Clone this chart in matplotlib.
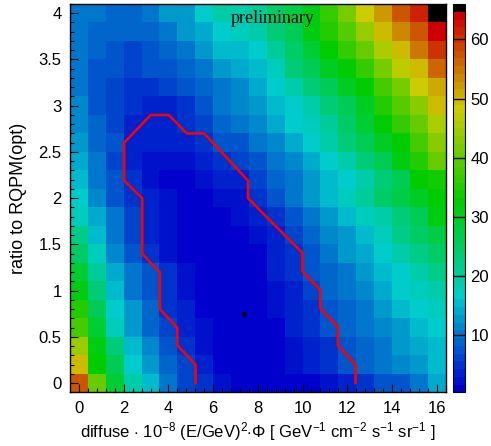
import colorsys
import numpy as np
import matplotlib
matplotlib.use("Agg")
import matplotlib.pyplot as plt
from matplotlib.colors import ListedColormap

plt.rcParams['font.family'] = ['Liberation Sans', 'DejaVu Sans']
plt.rcParams['mathtext.fontset'] = 'custom'
plt.rcParams['mathtext.rm'] = 'Liberation Sans'
plt.rcParams['mathtext.it'] = 'Liberation Sans:italic'

# bin centres (x: diffuse flux, y: ratio to RQPM)
x_centers = np.linspace(0, 16, 21)
y_centers = np.linspace(0, 4, 21)

# cell values, one row per y bin (bottom row first)
z_rows = [
    [57, 40, 28, 19, 15, 10.5, 6.5, 4.5, 2, 1.2, 0.8, 0.8, 1, 1.5, 2.5, 4, 5.5, 7, 8, 10.5, 13.5],
    [50, 33, 26, 17, 12.5, 9, 6, 3, 1.5, 0.8, 0.7, 1.2, 2.2, 3.3, 5.2, 6.9, 8.3, 10, 11.5, 13, 14.8],
    [44, 31, 23, 15.5, 11.5, 7.5, 4.5, 2.3, 1, 0.5, 0.5, 1.2, 2.6, 3.6, 5, 7.5, 9, 10.5, 12.5, 14, 15.5],
    [38, 28, 18, 13, 9, 6, 3.6, 1.8, 0.8, 0.3, 0.4, 1.3, 3, 4.5, 6.9, 8.3, 10, 11.5, 13, 14.8, 16.5],
    [34.5, 26, 17, 12.5, 8.3, 5.2, 3, 1.3, 0.6, 0.3, 0.5, 1.8, 3.6, 5.2, 7.5, 9, 10.5, 12.5, 14.8, 16.5, 18],
    [31.5, 23.6, 15.5, 10.5, 7.5, 4.5, 2.6, 1, 0.5, 0.3, 0.8, 2.2, 4, 6, 8.3, 10, 11.5, 14, 16.5, 18, 20],
    [29, 21, 14, 9.9, 6.9, 4.5, 2.6, 1.3, 0.6, 0.4, 1.3, 3, 4.5, 6.9, 9, 10.5, 13, 15.5, 17, 20, 22],
    [25, 18, 12, 7.5, 4.8, 2.5, 1.5, 0.8, 0.5, 0.5, 1.5, 3.3, 4.8, 7.5, 10, 12.5, 14, 16.5, 19, 22, 25],
    [22, 15, 10, 6.5, 4, 2.3, 1.2, 0.8, 0.8, 1.1, 2.2, 4, 5.6, 9, 11.5, 13, 15.5, 18.5, 22, 24.5, 27.5],
    [18.5, 14, 9.5, 6.3, 3.8, 2.3, 1.2, 1, 1.3, 1.8, 3.3, 5.2, 7.9, 10.5, 12.5, 14.8, 18, 20, 23.6, 26.5, 31],
    [17, 12, 8, 5, 3.5, 1.8, 1.5, 1.5, 2, 2.5, 4.3, 7.8, 9.5, 13, 15.5, 18, 21, 24, 27, 30.5, 32.5],
    [16, 10.5, 6.9, 4.3, 2.8, 1.4, 1.4, 2, 3, 4, 6, 8.7, 10.8, 12.5, 14.8, 17, 20, 23.6, 26.5, 32, 34],
    [14.5, 10, 6.5, 4, 2.6, 2.4, 2.8, 3.8, 5.5, 6.5, 7.5, 10, 12, 14, 17, 20, 23.6, 26.5, 30.7, 34.5, 40],
    [13, 9, 6.9, 3.6, 3, 3, 3.3, 4.8, 6.9, 7.5, 9.5, 12, 14.5, 16.5, 19, 23, 26, 30, 32.5, 37.5, 43],
    [12, 8.3, 5.8, 4, 3.5, 3.8, 4.5, 6, 8.3, 9.5, 11.5, 13.5, 16.5, 18.5, 21, 24.5, 28, 33, 36.5, 40.3, 46],
    [11, 8, 5.6, 4.8, 4, 4, 5.5, 7.5, 9.5, 11, 12.5, 14.8, 17, 20, 23, 26, 30, 34.5, 39, 43.5, 49.6],
    [10.5, 8, 6.5, 5.2, 5.2, 5.8, 7, 8.5, 10.5, 12, 14.5, 17, 20, 23.6, 26, 30, 33, 38, 42, 48, 51.5],
    [10.3, 8, 6.9, 6.5, 7, 7.5, 8.5, 10, 12.5, 14, 16, 18.5, 23, 26, 29.5, 33, 37, 42, 46.5, 50, 55.5],
    [10, 8.3, 7.5, 6.5, 7.5, 9, 10.5, 12.5, 14.8, 16, 17, 21, 24.5, 28, 33, 37, 41, 45, 49.6, 54.5, 59.5],
    [10, 9, 8.3, 8.3, 9, 10.5, 12.5, 14, 16.5, 17.5, 19, 23.6, 26.5, 31.5, 35, 39.5, 44, 49.6, 53, 58, 63.6],
    [10.5, 10, 9, 9, 10.5, 12.5, 13, 16.5, 19, 19.5, 21, 24, 27, 31, 37, 42, 48, 52, 57, 62, 66],
]
z_min, z_max = 0.3, 66.0

# red contour (open, both ends on the bottom row)
contour_x = [5.22, 5.22, 4.4, 4.4, 3.62, 3.62, 2.83, 2.83, 2.02, 2.02, 3.21, 4.02, 4.82, 5.6,
             7.56, 7.56, 9.99, 9.99, 10.79, 10.79, 11.58, 11.58, 12.37, 12.37]
contour_y = [0.0, 0.2, 0.41, 0.6, 0.8, 1.2, 1.4, 2.0, 2.19, 2.6, 2.9, 2.9, 2.7, 2.7,
             2.19, 2.0, 1.41, 1.21, 1.01, 0.81, 0.61, 0.41, 0.2, 0.0]

best_x, best_y = 7.4, 0.75

# old ROOT rainbow palette: 49 hues blue -> red, black on top
cols = [colorsys.hls_to_rgb((240.0 - 240.0 * k / 48) / 360.0, 0.4, 1.0) for k in range(49)]
cols.append((0, 0, 0))
cmap = ListedColormap(cols)

dx = x_centers[1] - x_centers[0]
dy = y_centers[1] - y_centers[0]
x_edges = np.append(x_centers - dx / 2, x_centers[-1] + dx / 2)
y_edges = np.append(y_centers - dy / 2, y_centers[-1] + dy / 2)

fig = plt.figure(figsize=(4.91, 4.46), dpi=100)
ax = fig.add_axes([0.1427, 0.12, 0.7648, 0.8711])
mesh = ax.pcolormesh(x_edges, y_edges, np.array(z_rows), cmap=cmap, vmin=z_min, vmax=z_max)

ax.plot(contour_x, contour_y, color='#ff0000', lw=1.8)
ax.plot([best_x], [best_y], 'o', color='black', ms=2.5)
ax.text(8.65, 3.94, 'preliminary', family='Liberation Serif', fontsize=13,
        ha='center', va='center')

ax.set_xlim(x_edges[0], x_edges[-1])
ax.set_ylim(y_edges[0], y_edges[-1])
ax.set_xticks(np.arange(0, 17, 2))
ax.set_xticks(np.arange(0, 16.5, 0.4), minor=True)
ax.set_yticks(np.arange(0, 4.01, 0.5))
ax.set_yticklabels(['0', '0.5', '1', '1.5', '2', '2.5', '3', '3.5', '4'])
ax.set_yticks(np.arange(-0.1, 4.11, 0.1), minor=True)
ax.tick_params(which='both', direction='in', top=False, right=False, labelsize=12, width=0.8)
ax.tick_params(which='major', length=6, pad=6)
ax.tick_params(which='minor', length=3)
for s in ax.spines.values():
    s.set_linewidth(1.0)

ax.set_xlabel(r'diffuse $\cdot$ 10$^{-8}$ (E/GeV)$^{2}$$\cdot$$\Phi$ [ GeV$^{-1}$ cm$^{-2}$ s$^{-1}$ sr$^{-1}$ ]',
              fontsize=12, labelpad=3)
ax.set_ylabel('ratio to RQPM(opt)', fontsize=13, labelpad=8)

cax = fig.add_axes([0.9226, 0.12, 0.0244, 0.8711])
cb = fig.colorbar(mesh, cax=cax)
cb.set_ticks([10, 20, 30, 40, 50, 60])
cb.ax.tick_params(direction='in', length=8.5, width=1.0, labelsize=12, pad=4)
cb.outline.set_linewidth(0.8)

fig.savefig('out.png', dpi=100)
